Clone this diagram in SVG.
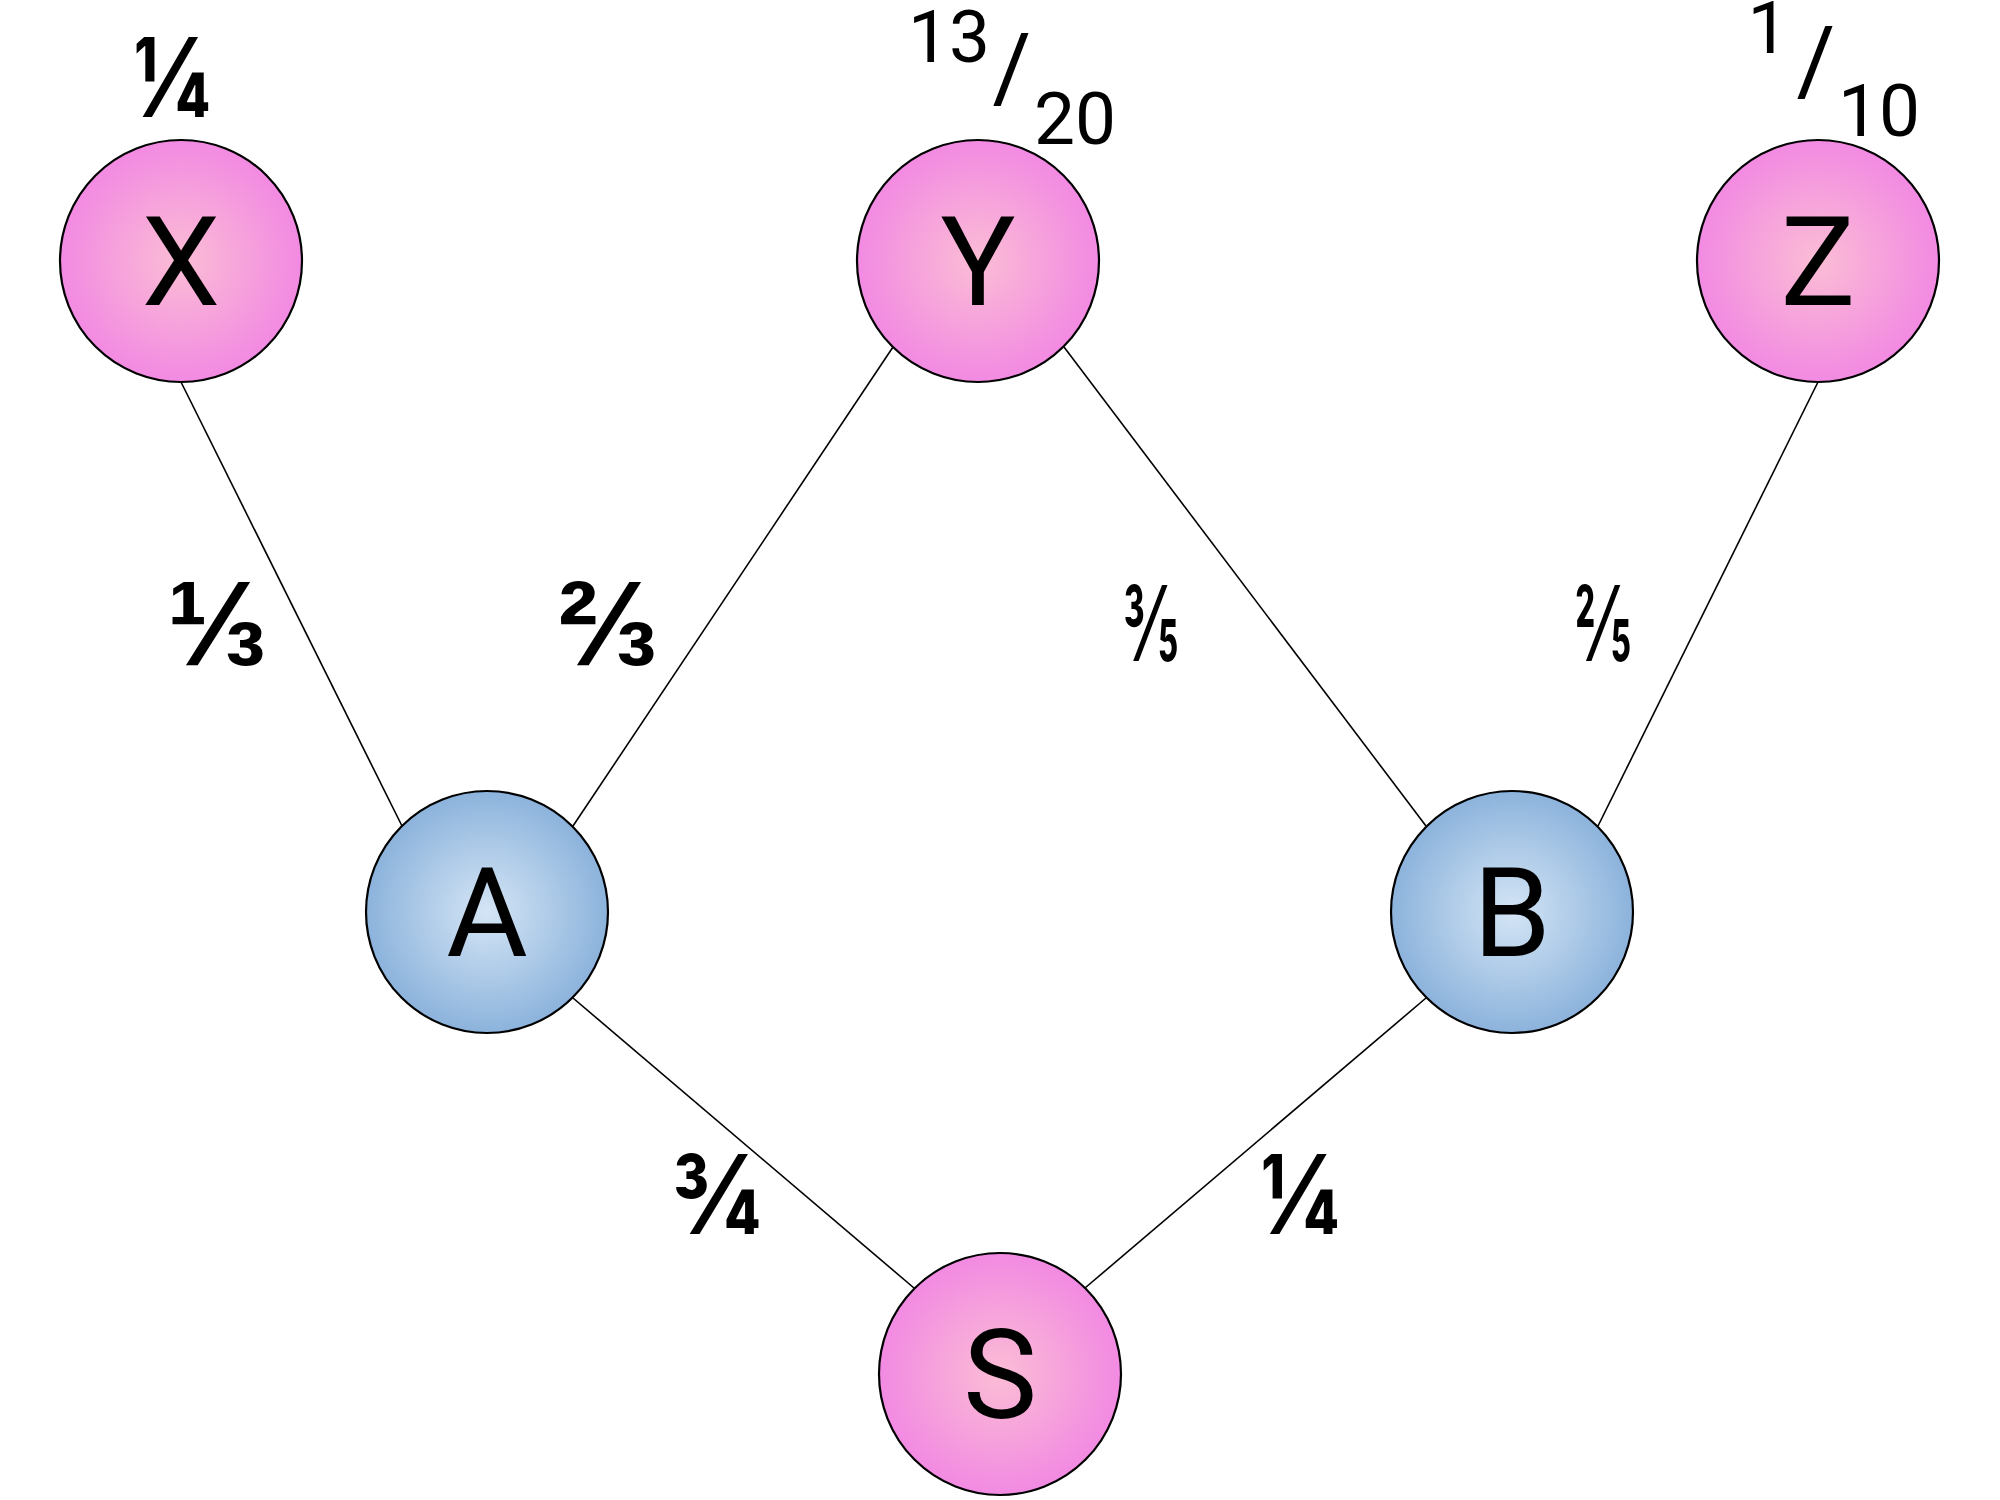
<svg xmlns="http://www.w3.org/2000/svg" width="2000" height="1500" viewBox="0 0 2000 1500">
<defs>
<radialGradient id="pink" cx="50%" cy="50%" r="50%">
<stop offset="0%" stop-color="#fbbdd5"/>
<stop offset="100%" stop-color="#f28ae2"/>
</radialGradient>
<radialGradient id="blue" cx="50%" cy="50%" r="50%">
<stop offset="0%" stop-color="#d4e5f5"/>
<stop offset="100%" stop-color="#8cb3dc"/>
</radialGradient>
<style>
.edge{stroke:#000;stroke-width:1.6;fill:none}
.pk{fill:url(#pink);stroke:#000;stroke-width:2.2}
.bl{fill:url(#blue);stroke:#000;stroke-width:2.2}
.lbl{font-family:Roboto,"Liberation Sans",sans-serif;font-size:125px;fill:#000;text-anchor:middle}
.fr{font-family:"Liberation Sans",sans-serif;font-weight:bold;font-size:120px;fill:#000;text-anchor:middle}
.fq{font-family:Inter,"Liberation Sans",sans-serif;font-weight:bold;font-size:110px;fill:#000;text-anchor:middle}
.f5{font-family:Inter,"Liberation Sans",sans-serif;font-weight:600;font-size:105px;fill:#000;text-anchor:middle}
.num{font-family:Roboto,"Liberation Sans",sans-serif;font-size:73px;fill:#000;text-anchor:middle}
.sl{font-family:Roboto,"Liberation Sans",sans-serif;font-size:94px;fill:#000;text-anchor:middle}
</style>
</defs>
<rect width="2000" height="1500" fill="#fff"/>
<g id="connectors">
<line class="edge" x1="181" y1="382" x2="402" y2="826"/>
<line class="edge" x1="893" y1="347" x2="573" y2="826"/>
<line class="edge" x1="1064" y1="347" x2="1426" y2="826"/>
<line class="edge" x1="1818" y1="382" x2="1598" y2="826"/>
<line class="edge" x1="573" y1="998" x2="914" y2="1288"/>
<line class="edge" x1="1426" y1="998" x2="1085" y2="1288"/>
<text class="fr" x="217" y="665">⅓</text>
<text class="fr" x="608" y="665">⅔</text>
<text class="f5" transform="translate(1151,661) scale(0.55,1)" x="0" y="0">⅗</text>
<text class="f5" transform="translate(1603,661) scale(0.55,1)" x="0" y="0">⅖</text>
<text class="fq" transform="translate(717,1234) scale(0.88,1)" x="0" y="0">¾</text>
<text class="fq" transform="translate(1300,1234) scale(0.86,1)" x="0" y="0">¼</text>
</g>
<g id="node-X">
<circle class="pk" cx="181" cy="261" r="121"/>
<text class="lbl" x="181" y="305">X</text>
<text class="fq" transform="translate(172,117) scale(0.84,1)" x="0" y="0">¼</text>
</g>
<g id="node-Y">
<circle class="pk" cx="978" cy="261" r="121"/>
<text class="lbl" x="978" y="305">Y</text>
<text class="num" x="949" y="62">13</text>
<text class="sl" x="1012" y="100">/</text>
<text class="num" x="1075" y="144">20</text>
</g>
<g id="node-Z">
<circle class="pk" cx="1818" cy="261" r="121"/>
<text class="lbl" x="1818" y="305">Z</text>
<text class="num" x="1768" y="53">1</text>
<text class="sl" x="1816" y="93">/</text>
<text class="num" x="1879" y="136">10</text>
</g>
<g id="node-A">
<circle class="bl" cx="487" cy="912" r="121"/>
<text class="lbl" x="487" y="956">A</text>
</g>
<g id="node-B">
<circle class="bl" cx="1512" cy="912" r="121"/>
<text class="lbl" x="1512" y="956">B</text>
</g>
<g id="node-S">
<circle class="pk" cx="1000" cy="1374" r="121"/>
<text class="lbl" x="1000" y="1418">S</text>
</g>
</svg>
